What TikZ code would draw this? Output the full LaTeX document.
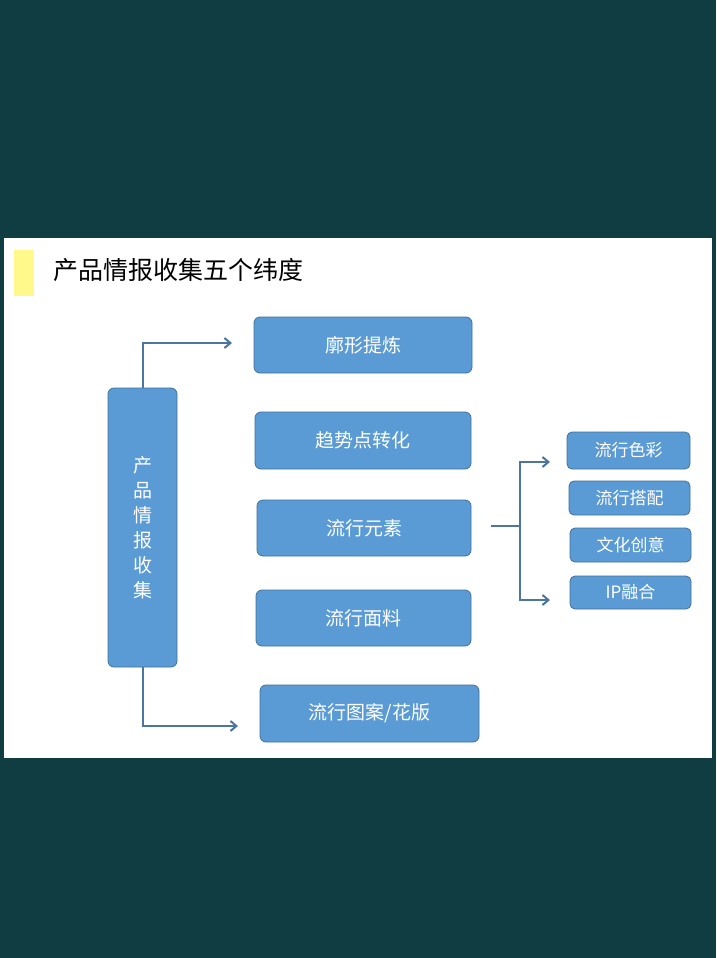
\documentclass[tikz,border=0pt]{standalone}
\usepackage{fontspec}
\newfontfamily\cjk{Noto Sans CJK SC}
\usetikzlibrary{arrows.meta}
\definecolor{bg}{HTML}{0F3D42}
\definecolor{boxf}{HTML}{5B9BD5}
\definecolor{boxd}{HTML}{41719C}
\definecolor{arr}{HTML}{4A76A0}
\begin{document}
\begin{tikzpicture}[x=1pt,y=-1pt,
  bx/.style={draw=boxd,line width=0.8pt,fill=boxf,rounded corners=6pt,text=white,font=\cjk\fontsize{19}{22}\selectfont},
  sbx/.style={draw=boxd,line width=0.8pt,fill=boxf,rounded corners=5pt,text=white,font=\cjk\fontsize{17}{20}\selectfont},
  ln/.style={draw=arr,line width=2.2pt},
  ar/.style={ln,-{Straight Barb[length=6pt,width=10pt,line width=2pt]}}]
\useasboundingbox (0,0) rectangle (716,958);
\fill[bg] (0,0) rectangle (716,958);
\fill[white] (4,238) rectangle (712,758);
\fill[yellow!45] (14,250) rectangle (34,296);
\node[anchor=west,font=\cjk\fontsize{25}{28}\selectfont] (title) at (50,270) {产品情报收集五个纬度};
\path[bx] (254,317) rectangle node (a) {廓形提炼} (472,373);
\path[bx] (255,412) rectangle node (b) {趋势点转化} (471,469);
\path[bx] (257,500) rectangle node (c) {流行元素} (471,556);
\path[bx] (256,590) rectangle node (d) {流行面料} (471,646);
\path[bx] (260,685) rectangle node (e) {流行图案/花版} (479,742);
\path[bx] (108,388) rectangle node[align=center,font=\cjk\fontsize{19}{25}\selectfont] (v) {产\\品\\情\\报\\收\\集} (177,667);
\path[sbx] (567,432) rectangle node (r1) {流行色彩} (690,469);
\path[sbx] (569,481) rectangle node (r2) {流行搭配} (690,515);
\path[sbx] (570,528) rectangle node (r3) {文化创意} (691,562);
\path[sbx] (570,576) rectangle node (r4) {IP融合} (691,609);
\coordinate (vt) at (143,388);
\coordinate (vb) at (143,667);
\draw[ar] (vt) -- (143,343) -- (232,343);
\draw[ar] (vb) -- (143,726) -- (238,726);
\coordinate (cs) at (491,526);
\coordinate (br) at (520,526);
\draw[ln] (cs) -- (br);
\draw[ar] (br) -- (520,462) -- (550,462);
\draw[ar] (br) -- (520,600) -- (550,600);
\end{tikzpicture}
\end{document}
